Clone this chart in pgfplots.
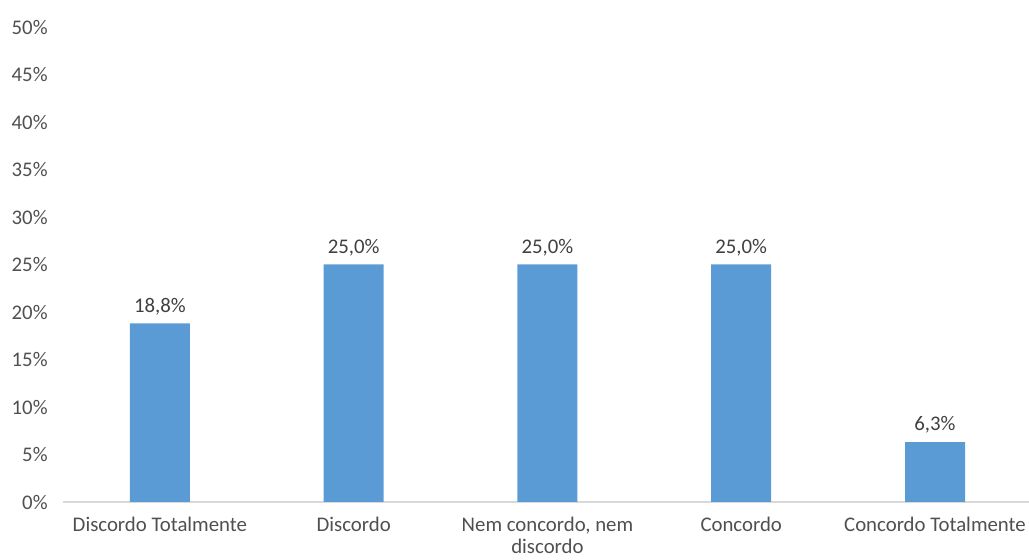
\documentclass[border=0pt]{standalone}
\usepackage{pgfplots}
\pgfplotsset{compat=1.18}
\usepackage{fontspec}
\setmainfont{Carlito}
\definecolor{barblue}{HTML}{5B9BD5}
\definecolor{txtgray}{HTML}{505050}
\definecolor{lblgray}{HTML}{404040}
\definecolor{axgray}{HTML}{D9D9D9}
\begin{document}
\begin{tikzpicture}
\path[use as bounding box] (-47.25pt,-43.5pt) rectangle (724.5pt,376.5pt);
\begin{axis}[
  at={(0pt,0pt)}, anchor=south west,
  scale only axis,
  width=724.5pt, height=356.25pt,
  xmin=-0.5, xmax=4.485,
  ymin=0, ymax=50,
  ytick={0,5,...,50},
  /pgf/number format/assume math mode=true,
  yticklabel={\pgfmathprintnumber{\tick}\%},
  xtick={0,1,2,3,4},
  xticklabels={Discordo Totalmente, Discordo, {Nem concordo, nem\\discordo}, Concordo, Concordo Totalmente},
  major tick length=0pt,
  axis x line*=bottom,
  axis y line*=left,
  y axis line style={draw=none},
  x axis line style={draw=axgray, line width=1.2pt, -},
  tick label style={font=\fontsize{15.6}{16.5}\selectfont, text=txtgray},
  xticklabel style={align=center, yshift=-8pt},
  yticklabel style={xshift=-8pt},
  ybar, bar width=45pt,
  nodes near coords={\pgfmathprintnumber[fixed,fixed zerofill,precision=1,use comma,assume math mode=true]{\pgfplotspointmeta}\%},
  nodes near coords style={font=\fontsize{15.6}{17.5}\selectfont, text=lblgray, yshift=3pt},
  clip=false,
]
\addplot[fill=barblue, draw=none] table {
x y
0 18.8
1 25.0
2 25.0
3 25.0
4 6.3
};
\end{axis}
\end{tikzpicture}
\end{document}
